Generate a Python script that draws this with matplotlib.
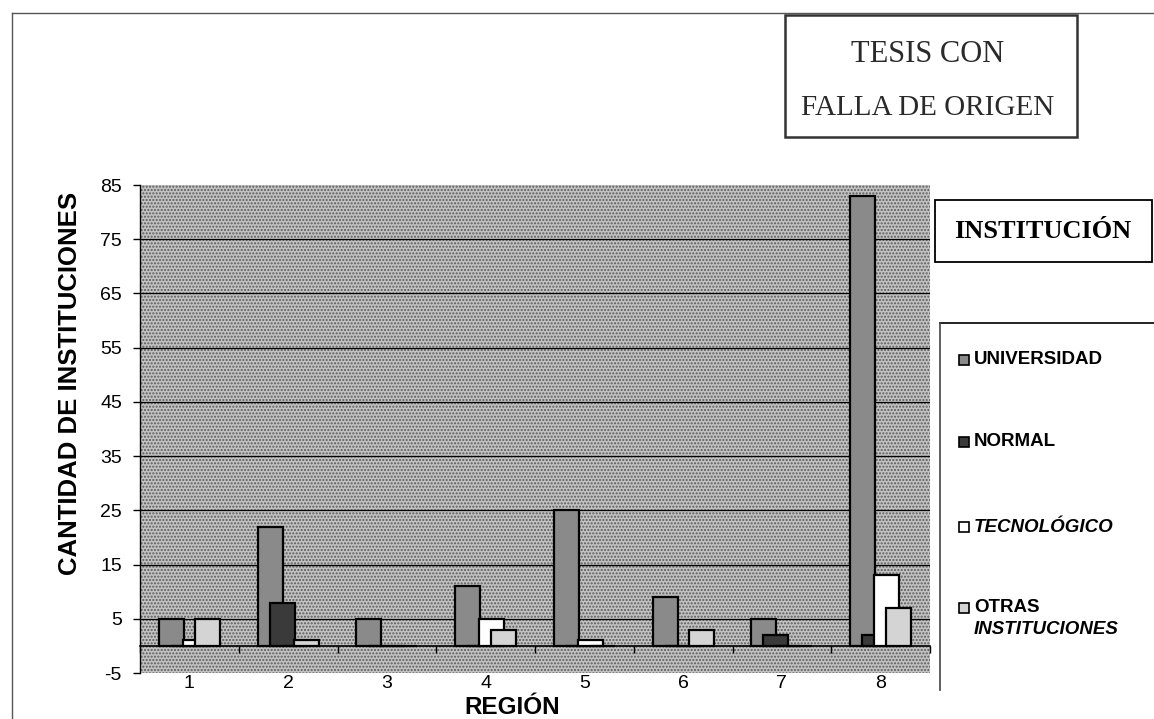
import matplotlib.pyplot as plt
import matplotlib.transforms as mtransforms
import numpy as np
from matplotlib.patches import Rectangle
from matplotlib.lines import Line2D

regiones = ['1', '2', '3', '4', '5', '6', '7', '8']
series = ['UNIVERSIDAD', 'NORMAL', 'TECNOLÓGICO', 'OTRAS']
universidad = [5, 22, 5, 11, 25, 9, 5, 83]
normal = [0, 8, 0, 0, 0, 0, 2, 2]
tecnologico = [1, 0, 0, 5, 1, 0, 0, 13]
otras = [5, 1, 0, 3, 0, 3, 0, 7]
yticks = list(range(-5, 86, 10))

colores = ['#8a8a8a', '#3a3a3a', '#ffffff', '#d4d4d4']

plt.rcParams['font.family'] = ['Liberation Sans', 'DejaVu Sans']

W, H = 1154, 719
fig = plt.figure(figsize=(W / 100, H / 100), dpi=100)


def px(x, y):
    return x / W, 1 - y / H


ax = fig.add_axes([140 / W, 1 - 673 / H, 790 / W, 488 / H])
ax.set_facecolor('#c2c2c2')
ax.add_patch(Rectangle((0, 0), 1, 1, transform=ax.transAxes, facecolor='none',
                       hatch='.....', edgecolor='#5a5a5a', lw=0, zorder=0))

x = np.arange(1, len(regiones) + 1)
ancho = 0.253
paso = 0.1215
for k, (vals, col) in enumerate(zip([universidad, normal, tecnologico, otras], colores)):
    ax.bar(x + (k - 1.5) * paso, vals, width=ancho, color=col,
           edgecolor='black', linewidth=1.6, zorder=3 + k)

ax.hlines(yticks[1:-1], 0.5, len(regiones) + 0.5, color='black', lw=0.9, zorder=1)
ax.set_xlim(0.5, len(regiones) + 0.5)
ax.set_ylim(-5, 85)

for s in ['top', 'right']:
    ax.spines[s].set_visible(False)
ax.spines['bottom'].set_position(('data', 0))
ax.spines['bottom'].set_linewidth(1.2)
ax.spines['left'].set_linewidth(1.0)

ax.set_yticks(yticks)
ax.set_yticklabels([str(v) for v in yticks], fontsize=14)
ax.set_xticks(np.arange(0.5, len(regiones) + 1, 1))
ax.set_xticklabels([])
ax.tick_params(axis='both', direction='out', length=5, width=1, pad=8)

trans = mtransforms.blended_transform_factory(ax.transData, ax.transAxes)
for xi, lab in zip(x, regiones):
    ax.text(xi, -0.004, lab, transform=trans, ha='center', va='top', fontsize=14)

fig.text(*px(512, 708), 'REGIÓN', ha='center', va='center', fontsize=17.5, fontweight='bold')
fig.text(*px(70, 383), 'CANTIDAD DE INSTITUCIONES', ha='center', va='center',
         rotation=90, fontsize=18.5, fontweight='bold')

# legend title box
fig.add_artist(Rectangle(px(935, 262), 217 / W, 62 / H, transform=fig.transFigure,
                         fill=False, lw=1.3, edgecolor='black'))
fig.text(*px(1043, 232), 'INSTITUCIÓN', ha='center', va='center', fontsize=19,
         fontweight='bold', family=['Liberation Serif', 'DejaVu Serif'])

# legend box (right side runs off the page)
fig.add_artist(Line2D([940 / W, 1.0], [1 - 323 / H] * 2, transform=fig.transFigure,
                      color='black', lw=1.2))
fig.add_artist(Line2D([940 / W] * 2, [1 - 323 / H, 1 - 690 / H], transform=fig.transFigure,
                      color='#444444', lw=1.2))

ys = [360, 442, 527, 608]
estilos = ['normal', 'normal', 'italic', 'normal']
for lab, col, yy, st in zip(series, colores, ys, estilos):
    fig.add_artist(Rectangle(px(959, yy + 5), 10 / W, 10 / H, transform=fig.transFigure,
                             facecolor=col, edgecolor='black', lw=1.2))
    fig.text(*px(974, yy), lab, ha='left', va='center', fontsize=13.5,
             fontweight='bold', style=st)
fig.text(*px(974, 630), 'INSTITUCIONES', ha='left', va='center', fontsize=13.5,
         fontweight='bold', style='italic')

# stamp
fig.add_artist(Rectangle(px(785, 137), 292 / W, 122 / H, transform=fig.transFigure,
                         fill=False, lw=1.8, edgecolor='#333333'))
fig.text(*px(928, 55), 'TESIS CON', ha='center', va='center', fontsize=22,
         color='#2a2a2a', family=['Liberation Serif', 'DejaVu Serif'])
fig.text(*px(928, 108), 'FALLA DE ORIGEN', ha='center', va='center', fontsize=21,
         color='#2a2a2a', family=['Liberation Serif', 'DejaVu Serif'])

# page border of the scan
fig.add_artist(Line2D([12 / W, 1.0], [1 - 13 / H] * 2, transform=fig.transFigure,
                      color='#555555', lw=1))
fig.add_artist(Line2D([12 / W] * 2, [1 - 13 / H, 0], transform=fig.transFigure,
                      color='#555555', lw=1))

fig.savefig('out.png', dpi=100)
